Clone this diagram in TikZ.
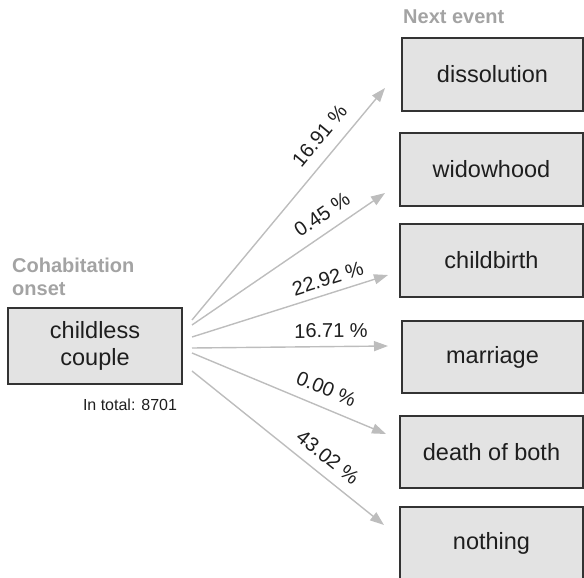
\documentclass[tikz,border=0pt]{standalone}
\usepackage{fontspec}
\setmainfont{Liberation Sans}
\usetikzlibrary{arrows.meta}
\definecolor{boxfill}{HTML}{E3E3E3}
\definecolor{boxline}{HTML}{333333}
\definecolor{arrgray}{HTML}{BDBDBD}
\definecolor{headgray}{HTML}{A3A3A3}
\definecolor{txt}{HTML}{1E1E1E}
\begin{document}
\begin{tikzpicture}[x=1pt,y=-1pt,
  evbox/.style={draw=boxline, line width=1.2pt, fill=boxfill, inner sep=0pt,
    text=txt, font=\fontsize{23.5}{27}\selectfont, align=center},
  arr/.style={draw=arrgray, line width=1.4pt, -{Triangle[length=14pt,width=10pt]}},
  lab/.style={sloped, anchor=south, text=txt, font=\fontsize{20}{24}\selectfont},
  head/.style={text=headgray, font=\bfseries\fontsize{20}{23}\selectfont, anchor=base west, inner sep=0pt}]
\useasboundingbox (0,0) rectangle (584,578);
% left box
\node[evbox, minimum width=174pt, minimum height=76pt] (src) at (95,346) {childless\\couple};
\node[head] (h1) at (12,272) {Cohabitation};
\node[head] (h2) at (12,295) {onset};
\node[text=txt, font=\fontsize{16}{19}\selectfont, inner sep=0pt, anchor=base] (tot) at (130,410) {In total: 8701};
\node[head] (h3) at (403,24) {Next event};
% right boxes
\node[evbox, minimum width=181pt, minimum height=73pt] (b1) at (492.5,74.5) {dissolution};
\node[evbox, minimum width=183pt, minimum height=73pt] (b2) at (491.5,169.5) {widowhood};
\node[evbox, minimum width=183pt, minimum height=73pt] (b3) at (491.5,260.5) {childbirth};
\node[evbox, minimum width=181pt, minimum height=72pt] (b4) at (492.5,357) {marriage};
\node[evbox, minimum width=183pt, minimum height=72pt] (b5) at (491.5,452) {death of both};
\node[evbox, minimum width=183pt, minimum height=73pt] (b6) at (491.5,543.5) {nothing};
% arrow end points
\coordinate (s1) at (192,320);
\coordinate (s2) at (192,325);
\coordinate (s3) at (192,337);
\coordinate (s4) at (192,348);
\coordinate (s5) at (192,353);
\coordinate (s6) at (192,371);
\coordinate (t1) at (385,88);
\coordinate (t2) at (385,193);
\coordinate (t3) at (388,275);
\coordinate (t4) at (388,346);
\coordinate (t5) at (386,434);
\coordinate (t6) at (384,525);
\draw[arr] (s1) -- node[lab, pos=0.74, inner sep=12pt] {16.91 \%} (t1);
\draw[arr] (s2) -- node[lab, pos=0.725, inner sep=10pt] {0.45 \%} (t2);
\draw[arr] (s3) -- node[lab, pos=0.716, inner sep=7pt] {22.92 \%} (t3);
\draw[arr] (s4) -- node[lab, pos=0.71, inner sep=8pt] {16.71 \%} (t4);
\draw[arr] (s5) -- node[lab, pos=0.655, inner sep=11pt] {0.00 \%} (t5);
\draw[arr] (s6) -- node[lab, pos=0.65, inner sep=10pt] {43.02 \%} (t6);
\end{tikzpicture}
\end{document}
